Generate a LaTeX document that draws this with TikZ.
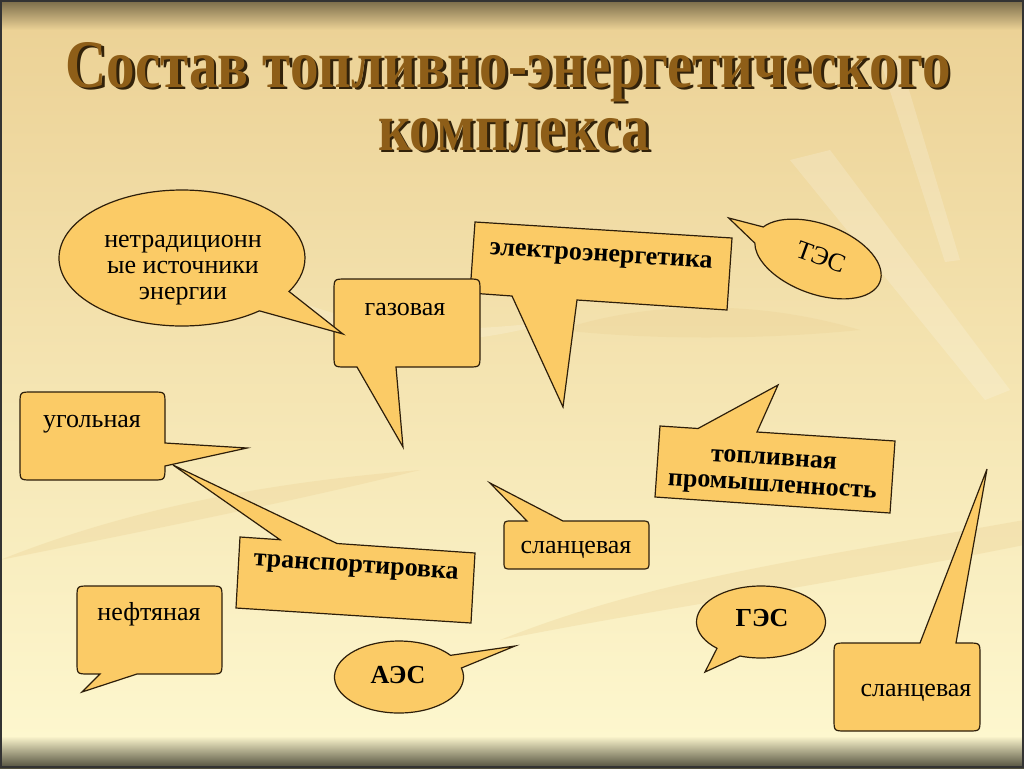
\documentclass[tikz,border=0pt]{standalone}
\usepackage{fontspec}
\setmainfont{Liberation Serif}
\newfontfamily\lserif{Liberation Serif}
\usepackage{graphicx}
\usetikzlibrary{calc}
\definecolor{calfill}{RGB}{251,203,102}
\definecolor{caldraw}{RGB}{45,30,10}
\definecolor{titlebrown}{RGB}{142,94,24}
\definecolor{titleshadow}{RGB}{50,34,10}
\definecolor{bgdark}{RGB}{120,106,72}
\definecolor{bgtop}{RGB}{236,210,150}
\definecolor{bgmid}{RGB}{250,235,186}
\definecolor{bgbot}{RGB}{253,247,206}
\definecolor{bgfoot}{RGB}{80,78,60}
\newcommand\shadowtext[1]{\rlap{\kern2.6pt\raisebox{-2.2pt}{\textcolor{titleshadow}{#1}}}#1}
\tikzset{
  callout/.style={fill=calfill, draw=caldraw, line width=0.9pt, line join=miter},
  lbl/.style={font=\lserif\fontsize{19.5}{19.5}\selectfont, text=black, inner sep=0pt},
  blbl/.style={font=\lserif\fontsize{19.5}{20}\selectfont\bfseries, text=black, inner sep=0pt},
  ttl/.style={font=\lserif\fontsize{51}{51}\selectfont\bfseries, inner sep=0pt, anchor=base},
  leaf/.style={fill=white, fill opacity=0.18, draw=none},
  leafdark/.style={fill=bgtop, fill opacity=0.35, draw=none}
}
\begin{document}
\begin{tikzpicture}[x=0.75pt,y=-0.75pt]
\useasboundingbox (0,0) rectangle (1024,768);
% background
\shade[top color=bgtop, middle color=bgmid, bottom color=bgbot] (0,28) rectangle (1024,738);
\shade[top color=bgdark, bottom color=bgtop] (0,0) rectangle (1024,30);
\shade[top color=bgbot, bottom color=bgfoot] (0,736) rectangle (1024,768);
% faint leaves
\path[leaf] (790,160) -- (830,150) -- (1010,390) -- (985,400) -- cycle;
\path[leaf] (180,230) .. controls (300,330) and (420,340) .. (560,320) .. controls (420,360) and (300,350) .. cycle;
\path[leafdark] (560,330) .. controls (650,300) and (760,300) .. (860,330) .. controls (760,340) and (650,340) .. cycle;
\path[leafdark] (0,560) .. controls (150,500) and (300,480) .. (420,470) .. controls (300,500) and (150,530) .. cycle;
\path[leafdark] (500,640) .. controls (650,580) and (800,560) .. (1024,520) -- (1024,545) .. controls (800,590) and (650,610) .. cycle;
\path[leaf] (880,60) -- (900,60) -- (960,260) -- (945,262) -- cycle;
% frame
\draw[line width=1.8pt, black!80] (1.2,1.2) rectangle (1022.8,766.8);
% title
\node[ttl, text=titlebrown] (title1) at (508,87) {\resizebox{664pt}{\height}{\shadowtext{Состав топливно-энергетического}}};
\node[ttl, text=titlebrown] (title2) at (514,150) {\resizebox{204pt}{\height}{\shadowtext{комплекса}}};

% электроэнергетика
\draw[callout] (475,222) -- (732,238) -- (727,310) -- (577,300) -- (563,407) -- (512,296) -- (470,293) -- cycle;
\node[blbl, rotate=-3.6] (t-el) at (601,258) {электроэнергетика};
% газовая
\draw[callout] (346,279) -- (468,279) .. controls (480,279) .. (480,291) -- (480,355)
  .. controls (480,367) .. (468,367) -- (396,367) -- (403,447) -- (357,367) -- (346,367)
  .. controls (334,367) .. (334,355) -- (334,291) .. controls (334,279) .. (346,279) -- cycle;
\node[lbl, anchor=base] (t-gaz) at (405,315) {газовая};
% нетрадиционные
\draw[callout] (182,258) ++(51:123 and 68) arc[start angle=51, end angle=389.5, x radius=123, y radius=68] -- (343,334) -- cycle;
\node[lbl, align=center] (t-netr) at (183,270) {нетрадиционн\\ые источники\\энергии};
% ТЭС
\begin{scope}[shift={(818,259)}, rotate=-20]
\draw[callout] (0,0) ++(199:66 and 35) arc[start angle=199, end angle=529, x radius=66, y radius=35] -- (-98,-8) -- cycle;
\node[lbl, transform shape] (t-tes) at (2,-3) {ТЭС};
\end{scope}
% топливная промышленность
\draw[callout] (660,426) -- (698,428.5) -- (778,385) -- (757,432) -- (895,441) -- (890,513) -- (655,497) -- cycle;
\node[blbl, align=center, rotate=-3.6] (t-top) at (773,475) {топливная\\промышленность};
% угольная
\draw[callout] (32,392) -- (153,392) .. controls (165,392) .. (165,404) -- (165,443) -- (247,448) -- (165,466)
  .. controls (165,480) .. (153,480) -- (32,480) .. controls (20,480) .. (20,468) -- (20,404) .. controls (20,392) .. (32,392) -- cycle;
\node[lbl, anchor=base] (t-ug) at (92,427) {угольная};
% транспортировка
\draw[callout] (240,537) -- (280,539.7) -- (173,465) -- (337,543.5) -- (475,553) -- (471,623) -- (236,608) -- cycle;
\node[blbl, rotate=-3.9] (t-tr) at (356,569) {транспортировка};
% нефтяная
\draw[callout] (89,586) -- (210,586) .. controls (222,586) .. (222,598) -- (222,662) .. controls (222,674) .. (210,674)
  -- (137,674) -- (82,692) -- (100,674) -- (89,674) .. controls (77,674) .. (77,662) -- (77,598) .. controls (77,586) .. (89,586) -- cycle;
\node[lbl, anchor=base] (t-neft) at (149,620) {нефтяная};
% АЭС
\draw[callout] (399,677) ++(345.5:64.5 and 36) arc[start angle=345.5, end angle=683, x radius=64.5, y radius=36] -- (515,646) -- cycle;
\node[blbl, anchor=base] (t-aes) at (398,683) {АЭС};
% сланцевая (middle)
\draw[callout] (512,521) -- (527,521) -- (490,483) -- (563,521) -- (641,521) .. controls (649,521) .. (649,529) -- (649,561)
  .. controls (649,569) .. (641,569) -- (512,569) .. controls (504,569) .. (504,561) -- (504,529) .. controls (504,521) .. (512,521) -- cycle;
\node[lbl, anchor=base] (t-sl1) at (576,553) {сланцевая};
% ГЭС
\draw[callout] (761,622) ++(133:64.5 and 36) arc[start angle=133, end angle=469, x radius=64.5, y radius=36] -- (705,672) -- cycle;
\node[blbl, anchor=base] (t-ges) at (762,626) {ГЭС};
% сланцевая (right)
\draw[callout] (846,643) -- (920,643) -- (987,469) -- (956,643) -- (968,643) .. controls (980,643) .. (980,655) -- (980,719)
  .. controls (980,731) .. (968,731) -- (846,731) .. controls (834,731) .. (834,719) -- (834,655) .. controls (834,643) .. (846,643) -- cycle;
\node[lbl, anchor=base] (t-sl2) at (916,696) {сланцевая};
\end{tikzpicture}
\end{document}
